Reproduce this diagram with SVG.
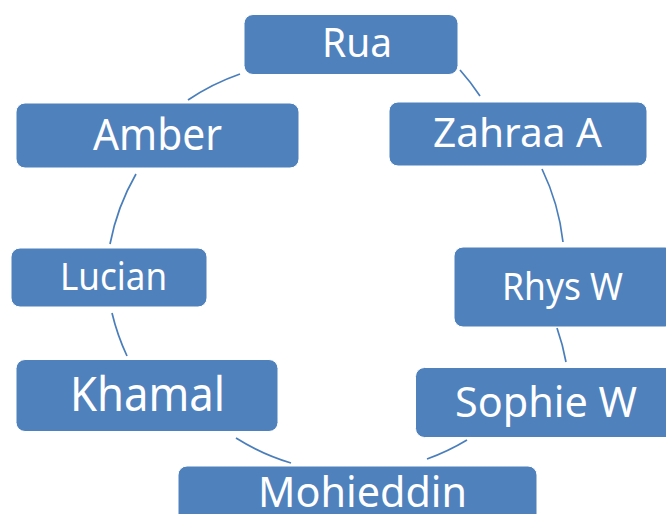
<svg xmlns="http://www.w3.org/2000/svg" width="666" height="514" viewBox="0 0 666 514">
<style>
.box{fill:#4F81BD;stroke:#ffffff;stroke-width:1}
.lbl{fill:#ffffff;font-family:"Noto Sans","Open Sans","DejaVu Sans",sans-serif}
.conn{fill:none;stroke:#4A7EBB;stroke-width:1.7}
.frag{fill:#000000;font-family:"Noto Sans","DejaVu Sans",sans-serif;font-size:36px}
</style>
<rect width="666" height="514" fill="#ffffff"/>
<text class="frag" x="291" y="-10">y</text>
<text class="frag" x="456" y="-10">y</text>
<g id="connectors">
<path class="conn" d="M460 70 A225 225 0 0 1 480 96"/>
<path class="conn" d="M542 169 A225 225 0 0 1 563 242"/>
<path class="conn" d="M557 328 A225 225 0 0 1 566 362"/>
<path class="conn" d="M467 440 A225 225 0 0 1 427 459"/>
<path class="conn" d="M291 463 A225 225 0 0 1 236 438"/>
<path class="conn" d="M127 356 A225 225 0 0 1 112 313"/>
<path class="conn" d="M110 244 A225 225 0 0 1 136 174"/>
<path class="conn" d="M188 100 A225 225 0 0 1 240 74"/>
</g>
<g id="rua">
<rect class="box" x="244" y="14.5" width="214" height="60" rx="9"/>
<text class="lbl" x="322" y="57" font-size="40" textLength="70" lengthAdjust="spacingAndGlyphs">Rua</text>
</g>
<g id="zahraa">
<rect class="box" x="389" y="102" width="258" height="64" rx="9"/>
<text class="lbl" x="433" y="147" font-size="40" textLength="169" lengthAdjust="spacingAndGlyphs">Zahraa A</text>
</g>
<g id="rhys">
<rect class="box" x="454" y="247" width="220" height="80" rx="9"/>
<text class="lbl" x="502" y="300" font-size="38" textLength="121" lengthAdjust="spacingAndGlyphs">Rhys W</text>
</g>
<g id="sophie">
<rect class="box" x="415.5" y="367.5" width="260" height="70" rx="9"/>
<text class="lbl" x="455" y="417" font-size="42" textLength="182" lengthAdjust="spacingAndGlyphs">Sophie W</text>
</g>
<g id="mohieddin">
<rect class="box" x="178" y="466" width="359" height="70" rx="9"/>
<text class="lbl" x="258" y="507" font-size="42" textLength="209" lengthAdjust="spacingAndGlyphs">Mohieddin</text>
</g>
<g id="khamal">
<rect class="box" x="16" y="359.5" width="262" height="72" rx="9"/>
<text class="lbl" x="70" y="411" font-size="48" textLength="155" lengthAdjust="spacingAndGlyphs">Khamal</text>
</g>
<g id="lucian">
<rect class="box" x="11" y="248" width="196" height="59" rx="9"/>
<text class="lbl" x="60" y="290" font-size="38" textLength="107" lengthAdjust="spacingAndGlyphs">Lucian</text>
</g>
<g id="amber">
<rect class="box" x="16" y="103" width="283" height="65" rx="9"/>
<text class="lbl" x="93" y="150" font-size="43" textLength="129" lengthAdjust="spacingAndGlyphs">Amber</text>
</g>
</svg>
